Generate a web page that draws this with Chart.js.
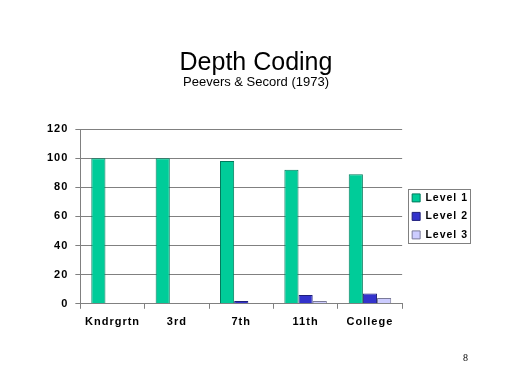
<!DOCTYPE html>
<html>
<head>
<meta charset="utf-8">
<script src="https://cdn.jsdelivr.net/npm/chart.js@4.4.1/dist/chart.umd.min.js"></script>
<style>
  html, body { margin: 0; padding: 0; background: #fff; }
  #wrap { position: relative; width: 512px; height: 384px; }
  #title { position: absolute; left: 0; width: 512px; top: 47px; text-align: center;
           font-family: Arial, "Liberation Sans", sans-serif; font-size: 25px; color: #000; }
  #subtitle { position: absolute; left: 0; width: 512px; top: 74px; text-align: center;
              font-family: Arial, "Liberation Sans", sans-serif; font-size: 13px; color: #000; }
  #page { position: absolute; left: 463px; top: 352px;
          font-family: "Times New Roman", "Liberation Serif", serif; font-size: 10px; color: #000; }
</style>
</head>
<body>
<div id="wrap">
  <canvas id="depthChart" width="512" height="384"></canvas>
  <div id="title">Depth Coding</div>
  <div id="subtitle">Peevers &amp; Secord (1973)</div>
  <div id="page">8</div>
</div>
<script>
var categories = ['Kndrgrtn', '3rd', '7th', '11th', 'College'];
var level1 = [100, 100, 98, 92, 89];
var level2 = [0, 0, 2, 6, 7];
var level3 = [0, 0, 0, 2, 4];
var yTicks = [0, 20, 40, 60, 80, 100, 120];

var axisFont = { family: 'Arial, "Liberation Sans", sans-serif', size: 11, weight: 'bold' };
var legendFont = { family: 'Arial, "Liberation Sans", sans-serif', size: 10.5, weight: 'bold' };

// letter spacing for axis and legend text (canvas state gets reset on resize)
var spacingPlugin = {
    id: 'spacing',
    beforeUpdate: function(chart) { chart.ctx.letterSpacing = '1px'; },
    beforeDraw: function(chart) { chart.ctx.letterSpacing = '1px'; }
};

// squeeze the legend down to its items, centred on the plot, and frame it
var legendBox = {
    id: 'legendBox',
    afterLayout: function(chart) {
        var lg = chart.legend;
        var ca = chart.chartArea;
        var mid = (ca.top + ca.bottom) / 2;
        lg.top = mid - 38;
        lg.bottom = mid + 38;
        lg.height = lg.bottom - lg.top;
        lg.left = ca.right + 2;
    },
    afterDraw: function(chart) {
        var lg = chart.legend;
        if (!lg) return;
        var ctx = chart.ctx;
        var mid = (lg.top + lg.bottom) / 2;
        var x = Math.round(lg.left + 4);
        var y = Math.round(mid - 27);
        ctx.save();
        ctx.strokeStyle = '#808080';
        ctx.lineWidth = 1;
        ctx.strokeRect(x + 0.5, y + 0.5, 62, 54);
        ctx.restore();
    }
};

new Chart(document.getElementById('depthChart'), {
    type: 'bar',
    data: {
        labels: categories,
        datasets: [{
            label: 'Level 1',
            data: level1,
            backgroundColor: '#00CC99',
            borderColor: '#007A5C',
            borderWidth: 1
        }, {
            label: 'Level 2',
            data: level2,
            backgroundColor: '#3333CC',
            borderColor: '#1F1F7A',
            borderWidth: 1
        }, {
            label: 'Level 3',
            data: level3,
            backgroundColor: '#CCCCFF',
            borderColor: '#7A7A99',
            borderWidth: 1
        }]
    },
    options: {
        responsive: false,
        animation: false,
        categoryPercentage: 0.66,
        barPercentage: 1.0,
        layout: { padding: { left: 40, right: 36, top: 129, bottom: 48 } },
        scales: {
            x: {
                grid: { display: true, offset: true, drawOnChartArea: false, drawTicks: true,
                        tickLength: 5, color: '#808080' },
                border: { color: '#808080' },
                ticks: { color: '#000', padding: 7, font: axisFont }
            },
            y: {
                min: 0,
                max: 120,
                afterBuildTicks: function(axis) {
                    axis.ticks = yTicks.map(function(v) { return { value: v }; });
                },
                grid: { color: '#808080', tickLength: 5, drawTicks: true },
                border: { color: '#808080' },
                ticks: { color: '#000', padding: 7, font: axisFont }
            }
        },
        plugins: {
            legend: {
                position: 'right',
                labels: {
                    color: '#000',
                    boxWidth: 8,
                    boxHeight: 8,
                    padding: 8,
                    font: legendFont
                }
            },
            title: { display: false },
            tooltip: { enabled: false }
        }
    },
    plugins: [spacingPlugin, legendBox]
});
</script>
</body>
</html>
